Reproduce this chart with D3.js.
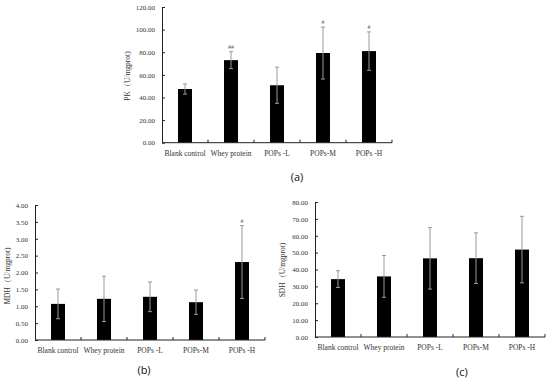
<!DOCTYPE html>
<html>
<head>
<meta charset="utf-8">
<script src="https://cdn.jsdelivr.net/npm/d3@7"></script>
<style>
  body { margin: 0; background: #fff; }
  text { font-family: "Liberation Serif", "Times New Roman", serif; fill: #333; }
  .panel-label { font-family: "Open Sans", "DejaVu Sans", sans-serif; fill: #111; }
</style>
</head>
<body>
<div id="chart"></div>
<script>
  const categories = ["Blank control", "Whey protein", "POPs -L", "POPs-M", "POPs -H"];

  const pkValues = [47.5, 73.0, 50.8, 79.3, 81.0];
  const pkErrors = [4.5, 7.5, 16.0, 23.0, 17.0];
  const pkMarks  = ["", "##", "", "#", "#"];
  const pkTicks  = [0, 20, 40, 60, 80, 100, 120];

  const mdhValues = [1.07, 1.22, 1.28, 1.12, 2.31];
  const mdhErrors = [0.44, 0.67, 0.44, 0.36, 1.08];
  const mdhMarks  = ["", "", "", "", "#"];
  const mdhTicks  = [0, 0.5, 1, 1.5, 2, 2.5, 3, 3.5, 4];

  const sdhValues = [34.3, 35.9, 46.6, 46.7, 51.8];
  const sdhErrors = [5.0, 12.4, 18.2, 15.0, 19.7];
  const sdhMarks  = ["", "", "", "", ""];
  const sdhTicks  = [0, 10, 20, 30, 40, 50, 60, 70, 80];

  const svg = d3.select("#chart").append("svg")
      .attr("width", 550)
      .attr("height", 381);

  // one bar panel, plot rect given in page pixels
  function panel(opt) {
    const g = svg.append("g");

    const x = d3.scaleBand()
      .domain(categories)
      .range([opt.x0, opt.x1])
      .paddingInner(32 / 46)
      .paddingOuter(16 / 46);

    const y = d3.scaleLinear()
      .domain([0, d3.max(opt.ticks)])
      .range([opt.yBottom, opt.yTop]);

    // y axis, ticks point inward
    const yAxis = g.append("g")
      .attr("transform", `translate(${opt.x0},0)`)
      .call(d3.axisLeft(y).tickValues(opt.ticks).tickSizeInner(-3).tickSizeOuter(0)
        .tickPadding(7).tickFormat(d3.format(".2f")));
    yAxis.select(".domain").attr("stroke", "#222");
    yAxis.selectAll(".tick line").attr("stroke", "#222");
    yAxis.selectAll("text").attr("font-size", 7).attr("fill", "#333")
      .attr("font-family", "Liberation Serif, serif");

    // bars
    g.selectAll(".bar")
      .data(opt.values)
      .join("rect")
      .attr("class", "bar")
      .attr("x", (d, i) => x(categories[i]))
      .attr("width", x.bandwidth())
      .attr("y", d => y(d))
      .attr("height", d => opt.yBottom - y(d))
      .attr("fill", "#000");

    // x axis line + boundary ticks
    g.append("line")
      .attr("x1", opt.x0).attr("x2", opt.x1)
      .attr("y1", opt.yBottom).attr("y2", opt.yBottom)
      .attr("stroke", "#222");
    g.selectAll(".xtick")
      .data(categories)
      .join("line")
      .attr("class", "xtick")
      .attr("x1", (d, i) => opt.x0 + x.step() * (i + 1))
      .attr("x2", (d, i) => opt.x0 + x.step() * (i + 1))
      .attr("y1", opt.yBottom).attr("y2", opt.yBottom - 3)
      .attr("stroke", "#222");

    // error bars
    const cx = i => x(categories[i]) + x.bandwidth() / 2;
    const eb = g.selectAll(".err")
      .data(opt.values)
      .join("g")
      .attr("class", "err")
      .attr("stroke", "#999")
      .attr("stroke-width", 1);
    eb.append("line")
      .attr("x1", (d, i) => cx(i)).attr("x2", (d, i) => cx(i))
      .attr("y1", (d, i) => y(d + opt.errors[i]))
      .attr("y2", (d, i) => y(d - opt.errors[i]));
    [1, -1].forEach(s => {
      eb.append("line")
        .attr("x1", (d, i) => cx(i) - 2).attr("x2", (d, i) => cx(i) + 2)
        .attr("y1", (d, i) => y(d + s * opt.errors[i]))
        .attr("y2", (d, i) => y(d + s * opt.errors[i]));
    });

    // significance marks
    g.selectAll(".mark")
      .data(opt.marks)
      .join("text")
      .attr("class", "mark")
      .attr("x", (d, i) => cx(i))
      .attr("y", (d, i) => y(opt.values[i] + opt.errors[i]) - 3)
      .attr("text-anchor", "middle")
      .attr("font-size", 6)
      .style("fill", "#555")
      .text(d => d);

    // category labels
    g.selectAll(".xlab")
      .data(categories)
      .join("text")
      .attr("class", "xlab")
      .attr("x", d => x(d) + x.bandwidth() / 2)
      .attr("y", opt.labelY)
      .attr("text-anchor", "middle")
      .attr("font-size", 7.5)
      .text(d => d);

    // y title
    g.append("text")
      .attr("transform", `translate(${opt.titleX},${opt.titleY}) rotate(-90)`)
      .attr("text-anchor", "middle")
      .attr("font-size", 7.5)
      .text(opt.title);

    // panel letter
    svg.append("text")
      .attr("class", "panel-label")
      .attr("x", opt.letterX)
      .attr("y", opt.letterY)
      .attr("text-anchor", "middle")
      .attr("font-size", 11)
      .text(opt.letter);
  }

  panel({ values: pkValues, errors: pkErrors, marks: pkMarks, ticks: pkTicks,
          x0: 162, x1: 392, yTop: 7, yBottom: 142.7, labelY: 156,
          title: "PK（U/mgprot)", titleX: 130, titleY: 76,
          letter: "(a)", letterX: 297, letterY: 181 });

  panel({ values: mdhValues, errors: mdhErrors, marks: mdhMarks, ticks: mdhTicks,
          x0: 35, x1: 265, yTop: 205, yBottom: 340, labelY: 353,
          title: "MDH（U/mgprot)", titleX: 10, titleY: 276,
          letter: "(b)", letterX: 144, letterY: 374 });

  panel({ values: sdhValues, errors: sdhErrors, marks: sdhMarks, ticks: sdhTicks,
          x0: 315, x1: 545, yTop: 202, yBottom: 337, labelY: 350,
          title: "SDH（U/mgprot)", titleX: 285, titleY: 270,
          letter: "(c)", letterX: 462, letterY: 376 });
</script>
</body>
</html>
